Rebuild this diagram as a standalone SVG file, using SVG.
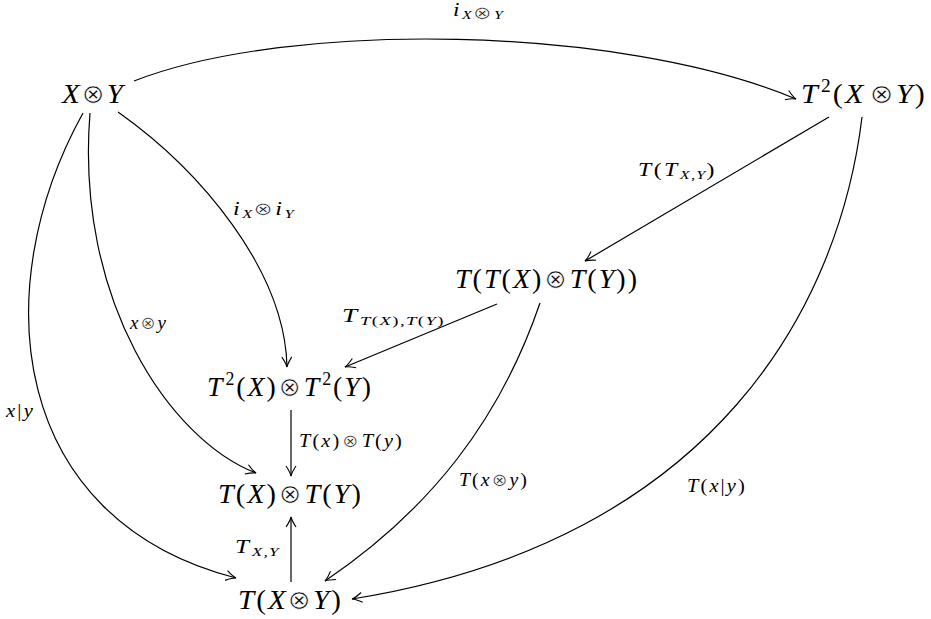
<svg xmlns="http://www.w3.org/2000/svg" width="931" height="619" viewBox="0 0 931 619">
<style>
text{font-family:"Liberation Serif","DejaVu Serif",serif;fill:#000}
.n{font-size:28px;letter-spacing:2px}
.l{font-size:19px;letter-spacing:2px}
.i{font-style:italic}
.o{font-family:"DejaVu Sans",sans-serif;font-size:0.95em;stroke:#fff;stroke-width:0.7px}
.l .o{stroke-width:0.5px}
.sup{font-size:18px}
.sub{font-size:13px;font-style:italic;letter-spacing:1px}
.sp{font-size:13px;letter-spacing:1px}
.e{fill:none;stroke:#000;stroke-width:1.2}
</style>
<defs>
<marker id="a" viewBox="-12 -7 14 14" markerWidth="14" markerHeight="14" refX="0" refY="0" orient="auto" markerUnits="userSpaceOnUse">
<path d="M-10,-5 Q-4,-1 0,0 Q-4,1 -10,5" fill="none" stroke="#000" stroke-width="1.1"/>
</marker>
</defs>
<g id="connectors">
<path class="e" marker-end="url(#a)" d="M134,81 C290,20 620,25 796,99"/>
<path class="e" marker-end="url(#a)" d="M83,113 C-15,290 10,520 236,578"/>
<path class="e" marker-end="url(#a)" d="M90,113 C75,300 170,440 256,473"/>
<path class="e" marker-end="url(#a)" d="M118,112 C200,170 285,270 287,367"/>
<path class="e" marker-end="url(#a)" d="M829,117 L585,261"/>
<path class="e" marker-end="url(#a)" d="M862,117 C840,300 720,540 352,599"/>
<path class="e" marker-end="url(#a)" d="M497,304 L345,367"/>
<path class="e" marker-end="url(#a)" d="M540,303 C500,420 430,510 325,581"/>
<path class="e" marker-end="url(#a)" d="M291,410 L291,476"/>
<path class="e" marker-end="url(#a)" d="M291,582 L291,517"/>
<text class="l" x="453" y="16" textLength="51" lengthAdjust="spacingAndGlyphs"><tspan class="i">i</tspan><tspan class="sub" dy="3" font-size="14px">X</tspan><tspan class="o" font-size="14px">⊗</tspan><tspan class="sub" font-size="14px">Y</tspan></text>
<text class="l" x="233" y="215" textLength="62" lengthAdjust="spacingAndGlyphs"><tspan class="i">i</tspan><tspan class="sub" dy="3">X</tspan><tspan class="o" dy="-3">⊗</tspan><tspan class="i">i</tspan><tspan class="sub" dy="3">Y</tspan></text>
<text class="l" x="638" y="176" textLength="79" lengthAdjust="spacingAndGlyphs"><tspan class="i">T</tspan>(<tspan class="i">T</tspan><tspan class="sub" dy="3">X,Y</tspan><tspan dy="-3">)</tspan></text>
<text class="l" x="342" y="322" textLength="103" lengthAdjust="spacingAndGlyphs"><tspan class="i">T</tspan><tspan class="sub" dy="3">T</tspan><tspan class="sp">(</tspan><tspan class="sub">X</tspan><tspan class="sp">),</tspan><tspan class="sub">T</tspan><tspan class="sp">(</tspan><tspan class="sub">Y</tspan><tspan class="sp">)</tspan></text>
<text class="l" x="130" y="329" textLength="38" lengthAdjust="spacingAndGlyphs"><tspan class="i">x</tspan><tspan class="o">⊗</tspan><tspan class="i">y</tspan></text>
<text class="l" x="6" y="417" textLength="29" lengthAdjust="spacingAndGlyphs"><tspan class="i">x</tspan>|<tspan class="i">y</tspan></text>
<text class="l" x="299" y="447" textLength="105" lengthAdjust="spacingAndGlyphs"><tspan class="i">T</tspan>(<tspan class="i">x</tspan>)<tspan class="o" dx="1">⊗</tspan><tspan class="i" dx="1">T</tspan>(<tspan class="i">y</tspan>)</text>
<text class="l" x="459" y="486" textLength="70" lengthAdjust="spacingAndGlyphs"><tspan class="i">T</tspan>(<tspan class="i">x</tspan><tspan class="o">⊗</tspan><tspan class="i">y</tspan>)</text>
<text class="l" x="235" y="553" textLength="45" lengthAdjust="spacingAndGlyphs"><tspan class="i">T</tspan><tspan class="sub" dy="3">X,Y</tspan></text>
<text class="l" x="687" y="492" textLength="60" lengthAdjust="spacingAndGlyphs"><tspan class="i">T</tspan>(<tspan class="i">x</tspan>|<tspan class="i">y</tspan>)</text>
</g>
<g id="n1"><text class="n" x="62" y="103" textLength="63" lengthAdjust="spacingAndGlyphs"><tspan class="i">X</tspan><tspan class="o">⊗</tspan><tspan class="i">Y</tspan></text></g>
<g id="n2"><text class="n" x="801" y="103" textLength="126" lengthAdjust="spacingAndGlyphs"><tspan class="i">T</tspan><tspan class="sup" dy="-11" dx="1">2</tspan><tspan dy="11">(</tspan><tspan class="i">X</tspan><tspan class="o" dx="4">⊗</tspan><tspan class="i">Y</tspan>)</text></g>
<g id="n3"><text class="n" x="455" y="288" textLength="184" lengthAdjust="spacingAndGlyphs"><tspan class="i">T</tspan>(<tspan class="i">T</tspan>(<tspan class="i">X</tspan>)<tspan class="o" dx="1">⊗</tspan><tspan class="i" dx="1">T</tspan>(<tspan class="i">Y</tspan>))</text></g>
<g id="n4"><text class="n" x="207" y="396" textLength="166" lengthAdjust="spacingAndGlyphs"><tspan class="i">T</tspan><tspan class="sup" dy="-11" dx="1">2</tspan><tspan dy="11">(</tspan><tspan class="i">X</tspan>)<tspan class="o" dx="1">⊗</tspan><tspan class="i" dx="1">T</tspan><tspan class="sup" dy="-11" dx="1">2</tspan><tspan dy="11">(</tspan><tspan class="i">Y</tspan>)</text></g>
<g id="n5"><text class="n" x="218" y="503" textLength="145" lengthAdjust="spacingAndGlyphs"><tspan class="i">T</tspan>(<tspan class="i">X</tspan>)<tspan class="o" dx="1">⊗</tspan><tspan class="i" dx="1">T</tspan>(<tspan class="i">Y</tspan>)</text></g>
<g id="n6"><text class="n" x="238" y="609" textLength="105" lengthAdjust="spacingAndGlyphs"><tspan class="i">T</tspan>(<tspan class="i">X</tspan><tspan class="o">⊗</tspan><tspan class="i">Y</tspan>)</text></g>
</svg>
